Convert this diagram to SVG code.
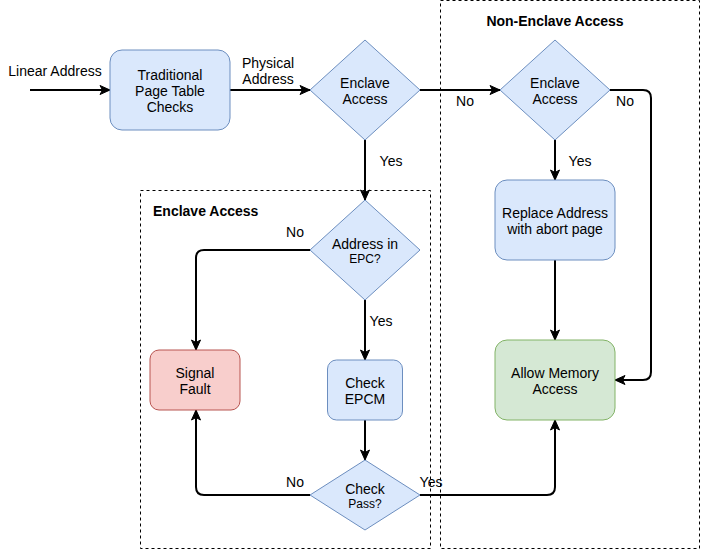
<svg xmlns="http://www.w3.org/2000/svg" width="701" height="552" viewBox="0 0 701 552">
<style>
text{font-family:"Liberation Sans",Arial,Helvetica,sans-serif;font-size:14px;fill:#000;text-anchor:middle}
.b{fill:#dae8fc;stroke:#6c8ebf;stroke-width:1}
.r{fill:#f8cecc;stroke:#b85450;stroke-width:1}
.g{fill:#d5e8d4;stroke:#82b366;stroke-width:1}
.grp{fill:none;stroke:#000;stroke-width:1;stroke-dasharray:3 3}
.t{font-weight:bold;text-anchor:start}
.e{fill:none;stroke:#000;stroke-width:2;marker-end:url(#a)}
.s{font-size:12px}
</style>
<defs>
<marker id="a" markerUnits="userSpaceOnUse" markerWidth="12" markerHeight="12" viewBox="0 0 12 12" refX="11" refY="6" orient="auto">
<path d="M1,1.5 L11,6 L1,10.5 L3.5,6 Z" fill="#000" stroke="#000" stroke-width="1"/>
</marker>
</defs>
<rect width="701" height="552" fill="#fff"/>
<g id="group-enclave">
<rect class="grp" x="140.5" y="190.5" width="290" height="358"/>
<text class="t" x="153" y="216">Enclave Access</text>
</g>
<g id="group-non-enclave">
<rect class="grp" x="440.5" y="0.5" width="259" height="548"/>
<text class="t" x="555" y="26" style="text-anchor:middle">Non-Enclave Access</text>
</g>
<g id="connectors">
<path class="e" d="M30,90 H110"/>
<text x="55" y="76">Linear Address</text>
<path class="e" d="M230,90 H310"/>
<text x="268" y="68">Physical</text>
<text x="268" y="84">Address</text>
<path class="e" d="M420,90 H500"/>
<text x="465" y="106">No</text>
<path class="e" d="M365,140 V200"/>
<text x="391" y="166">Yes</text>
<path class="e" d="M610,90 H643 Q651,90 651,98 V372 Q651,380 643,380 H615"/>
<text x="625" y="106">No</text>
<path class="e" d="M555,140 V180"/>
<text x="580" y="166">Yes</text>
<path class="e" d="M555,260 V340"/>
<path class="e" d="M310,250 H204 Q196,250 196,258 V350"/>
<text x="295" y="237">No</text>
<path class="e" d="M365,300 V360"/>
<text x="381" y="326">Yes</text>
<path class="e" d="M365,420 V460"/>
<path class="e" d="M310,495 H204 Q196,495 196,487 V410"/>
<text x="295" y="487">No</text>
<path class="e" d="M420,495 H547 Q555,495 555,487 V420"/>
<text x="431" y="487">Yes</text>
</g>
<g id="traditional-checks">
<rect class="b" x="110" y="50" width="120" height="80" rx="12"/>
<text x="170" y="80">Traditional</text>
<text x="170" y="96">Page Table</text>
<text x="170" y="112">Checks</text>
</g>
<g id="enclave-access-1">
<path class="b" d="M365,40 L420,90 L365,140 L310,90 Z"/>
<text x="365" y="88">Enclave</text>
<text x="365" y="104">Access</text>
</g>
<g id="enclave-access-2">
<path class="b" d="M555,40 L610,90 L555,140 L500,90 Z"/>
<text x="555" y="88">Enclave</text>
<text x="555" y="104">Access</text>
</g>
<g id="replace-address">
<rect class="b" x="495" y="180" width="120" height="80" rx="12"/>
<text x="555" y="218">Replace Address</text>
<text x="555" y="234">with abort page</text>
</g>
<g id="allow-memory">
<rect class="g" x="495" y="340" width="120" height="80" rx="12"/>
<text x="555" y="378">Allow Memory</text>
<text x="555" y="394">Access</text>
</g>
<g id="address-in-epc">
<path class="b" d="M365,200 L420,250 L365,300 L310,250 Z"/>
<text x="365" y="249">Address in</text>
<text class="s" x="365" y="263">EPC?</text>
</g>
<g id="signal-fault">
<rect class="r" x="150" y="350" width="90" height="60" rx="9"/>
<text x="195" y="378">Signal</text>
<text x="195" y="394">Fault</text>
</g>
<g id="check-epcm">
<rect class="b" x="327.5" y="360" width="75" height="60" rx="9"/>
<text x="365" y="388">Check</text>
<text x="365" y="404">EPCM</text>
</g>
<g id="check-pass">
<path class="b" d="M365,460 L420,495 L365,530 L310,495 Z"/>
<text x="365" y="494">Check</text>
<text class="s" x="365" y="508">Pass?</text>
</g>
</svg>
